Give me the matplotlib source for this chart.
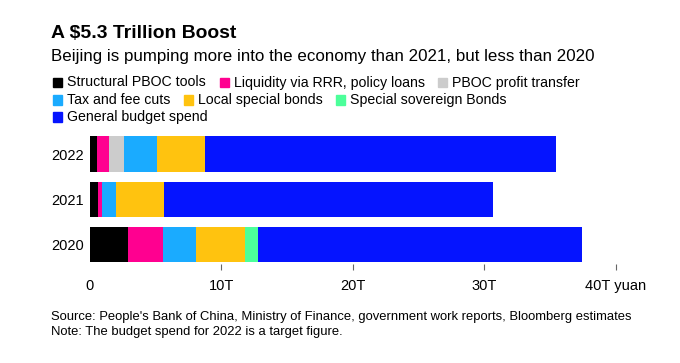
import numpy as np
import matplotlib
matplotlib.use("Agg")
import matplotlib.pyplot as plt
import matplotlib.transforms as mtransforms
from matplotlib.patches import Rectangle

plt.rcParams['font.family'] = ['Liberation Sans', 'DejaVu Sans']

# Data (trillion yuan)
years = ["2022", "2021", "2020"]
categories = ["Structural PBOC tools", "Liquidity via RRR, policy loans",
              "PBOC profit transfer", "Tax and fee cuts", "Local special bonds",
              "Special sovereign Bonds", "General budget spend"]
colors = ["#000000", "#ff0090", "#cccccc", "#1aabff", "#ffc30f", "#4cff9a", "#0514ff"]
values = {
    "Structural PBOC tools":           [0.57, 0.62, 2.93],
    "Liquidity via RRR, policy loans": [0.91, 0.31, 2.64],
    "PBOC profit transfer":            [1.12, 0.0, 0.0],
    "Tax and fee cuts":                [2.5, 1.06, 2.5],
    "Local special bonds":             [3.65, 3.65, 3.75],
    "Special sovereign Bonds":         [0.0, 0.0, 1.0],
    "General budget spend":            [26.7, 25.0, 24.6],
}
xticks = [0, 10, 20, 30, 40]
xticklabels = ["0", "10T", "20T", "30T", "40T yuan"]

W, H = 680, 363
fig = plt.figure(figsize=(W / 100, H / 100), dpi=100)
renderer = fig.canvas.get_renderer()


def fx(x):
    return x / W


def fy(y):
    return 1 - y / H


def fit(t, target_px):
    # scale font so the text spans target_px pixels
    w = t.get_window_extent(renderer).width
    t.set_fontsize(t.get_fontsize() * target_px / w)
    return t


# axes placement in pixels
x0, x40 = 89.8, 616
xmax = 42
ax_w = (x40 - x0) / 40 * xmax
ax_top, ax_bot = 131.75, 264.3
ax = fig.add_axes([fx(x0), fy(ax_bot), ax_w / W, (ax_bot - ax_top) / H])

ypos = np.arange(len(years))
left = np.zeros(len(years))
for cat, col in zip(categories, colors):
    v = np.array(values[cat])
    ax.barh(ypos, v, left=left, height=0.79, color=col, edgecolor="none")
    left += v

ax.set_xlim(0, xmax)
ax.set_ylim(2.44, -0.5)
ax.set_yticks(ypos)
ax.set_yticklabels(years, fontsize=10.5)
ax.tick_params(axis="y", length=0, pad=4.3)
ax.set_xticks(xticks)
ax.set_xticklabels([])
ax.tick_params(axis="x", length=4.6, width=0.8, color="#666666", direction="out")
ax.xaxis.get_major_ticks()[0].tick1line.set_visible(False)
for s in ax.spines.values():
    s.set_visible(False)
ax.patch.set_alpha(0)

# x labels placed at tick positions
trans = mtransforms.blended_transform_factory(ax.transData, fig.transFigure)
for xv, lab in zip(xticks, xticklabels):
    ax.text(xv, fy(286), lab, transform=trans, ha="center", va="center", fontsize=10.5)

# titles
t = fig.text(fx(51), fy(33.5), "A $5.3 Trillion Boost", fontsize=14, fontweight="bold",
             ha="left", va="center")
fit(t, 186)
t = fig.text(fx(51), fy(57), "Beijing is pumping more into the economy than 2021, but less than 2020",
             fontsize=12, ha="left", va="center")
fit(t, 543)

# legend laid out manually
probe = fig.text(0, 0, categories[0], fontsize=10)
fit(probe, 138.4)
leg_size = probe.get_fontsize()
probe.remove()

rows = [[0, 1, 2], [3, 4, 5], [6]]
row_y = [82.5, 100, 117]
for row, yy in zip(rows, row_y):
    x = 53.3
    for i in row:
        fig.patches.append(Rectangle((fx(x), fy(yy + 4.5)), 9 / W, 9 / H,
                                     transform=fig.transFigure, color=colors[i]))
        t = fig.text(fx(x + 14), fy(yy), categories[i], fontsize=leg_size,
                     ha="left", va="center")
        w = t.get_window_extent(renderer).width
        x = x + 14 + w + 13.5

t = fig.text(fx(51), fy(317), "Source: People's Bank of China, Ministry of Finance, government work reports, Bloomberg estimates",
             fontsize=9, ha="left", va="center")
fit(t, 580)
fig.text(fx(51), fy(332), "Note: The budget spend for 2022 is a target figure.",
         fontsize=t.get_fontsize(), ha="left", va="center")

fig.savefig("out.png", dpi=100)
